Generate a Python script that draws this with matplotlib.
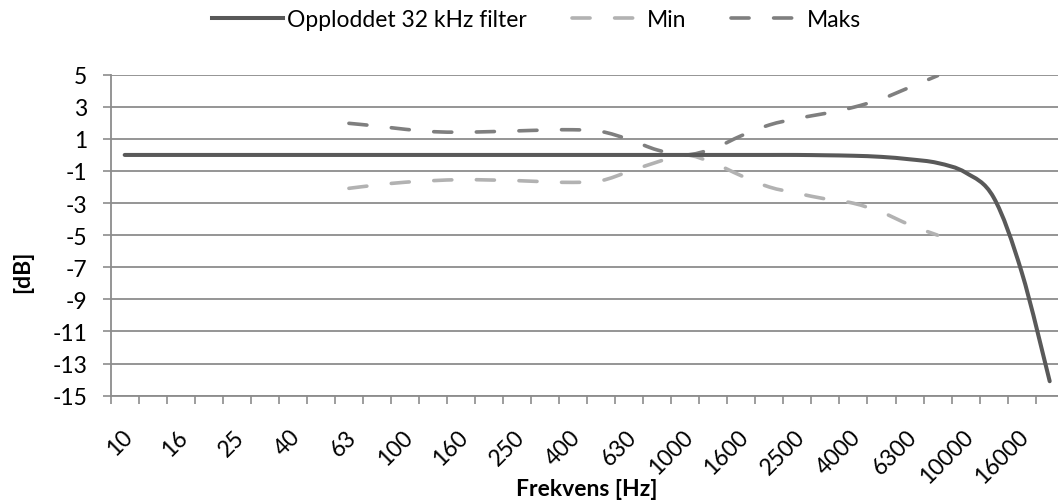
import numpy as np
import matplotlib
matplotlib.use("Agg")
import matplotlib.pyplot as plt
from matplotlib.path import Path
from matplotlib.patches import PathPatch
from matplotlib.lines import Line2D
from matplotlib.transforms import ScaledTranslation

# 1/3-octave band centre frequencies (category axis)
freqs = ["10", "12.5", "16", "20", "25", "31.5", "40", "50", "63", "80", "100",
         "125", "160", "200", "250", "315", "400", "500", "630", "800", "1000",
         "1250", "1600", "2000", "2500", "3150", "4000", "5000", "6300", "8000",
         "10000", "12500", "16000", "20000"]

filter_db = [0.0, 0.0, 0.0, 0.0, 0.0, 0.0, 0.0, 0.0, 0.0, 0.0, 0.0,
             0.0, 0.0, 0.0, 0.0, 0.0, 0.0, 0.0, 0.0, 0.0, 0.0,
             0.0, 0.0, 0.0, 0.0, -0.02, -0.05, -0.12, -0.27, -0.5,
             -1.1, -2.65, -7.3, -14.1]

# tolerance limits, 63 Hz .. 8000 Hz
tol_start = 8
min_db = [-2.08, -1.87, -1.7, -1.6, -1.54, -1.56, -1.6, -1.67, -1.71, -1.6, -1.03,
          -0.44, 0.0, -0.5, -1.3, -2.0, -2.39, -2.74, -3.01, -3.57, -4.35, -5.0]
maks_db = [1.97, 1.8, 1.6, 1.45, 1.42, 1.45, 1.5, 1.55, 1.57, 1.46, 0.96,
           0.31, 0.0, 0.4, 1.2, 1.87, 2.28, 2.59, 2.97, 3.49, 4.21, 4.94]

c_main = "#595959"
c_min = "#b2b2b2"
c_maks = "#7f7f7f"
c_grid = "#8c8c8c"
fs = 16.5

plt.rcParams["font.family"] = ["Lato", "DejaVu Sans"]
plt.rcParams["axes.unicode_minus"] = False


def smooth_path(x, y):
    # Excel style smoothed line (cardinal spline as cubic beziers)
    n = len(x)
    verts = [(x[0], y[0])]
    codes = [Path.MOVETO]
    for i in range(n - 1):
        a = max(i - 1, 0)
        b = min(i + 2, n - 1)
        c1 = (x[i] + (x[i + 1] - x[a]) / 6, y[i] + (y[i + 1] - y[a]) / 6)
        c2 = (x[i + 1] - (x[b] - x[i]) / 6, y[i + 1] - (y[b] - y[i]) / 6)
        verts += [c1, c2, (x[i + 1], y[i + 1])]
        codes += [Path.CURVE4] * 3
    return Path(verts, codes)


fig = plt.figure(figsize=(10.58, 5.02), dpi=100)
ax = fig.add_axes([0.1046, 0.2098, 0.9008, 0.6394])

x = np.arange(len(freqs))
xt = x[tol_start:tol_start + len(min_db)]

dash = (0, (5.0, 6.8))
ax.add_patch(PathPatch(smooth_path(xt, min_db), fill=False, edgecolor=c_min,
                       lw=2.6, ls=dash, capstyle="round", zorder=3))
ax.add_patch(PathPatch(smooth_path(xt, maks_db), fill=False, edgecolor=c_maks,
                       lw=2.6, ls=dash, capstyle="round", zorder=3))
ax.add_patch(PathPatch(smooth_path(x, filter_db), fill=False, edgecolor=c_main,
                       lw=2.9, capstyle="round", joinstyle="round", zorder=4))

ax.set_xlim(-0.5, len(freqs) - 0.5)
ax.set_ylim(-15, 5)
ax.set_yticks(np.arange(-15, 6, 2))
ax.yaxis.grid(True, color=c_grid, lw=1.3)
ax.set_axisbelow(True)

ax.set_xticks(x[::2])
ax.set_xticklabels(freqs[::2], rotation=45, ha="right", va="center",
                   rotation_mode="anchor")
ax.set_xticks(np.arange(-0.5, len(freqs), 1), minor=True)
ax.tick_params(axis="x", which="major", length=0, pad=27, labelsize=fs)
ax.tick_params(axis="x", which="minor", length=5.5, width=1.2, color=c_grid)
ax.tick_params(axis="y", length=6, width=1.2, color=c_grid, labelsize=fs, pad=11)
shift = ScaledTranslation(0.04, 0, fig.dpi_scale_trans)
for lab in ax.get_xticklabels():
    lab.set_transform(lab.get_transform() + shift)

for s in ["top", "right"]:
    ax.spines[s].set_visible(False)
for s in ["left", "bottom"]:
    ax.spines[s].set_color(c_grid)
    ax.spines[s].set_linewidth(1.3)

ax.set_ylabel("[dB]", fontsize=fs, fontweight="bold")
ax.yaxis.set_label_coords(-0.0815, 0.388)
ax.set_xlabel("Frekvens [Hz]", fontsize=fs, fontweight="bold")
ax.xaxis.set_label_coords(0.5, -0.255)

handles = [Line2D([], [], color=c_main, lw=2.9),
           Line2D([], [], color=c_min, lw=2.6, ls=dash, dash_capstyle="round"),
           Line2D([], [], color=c_maks, lw=2.6, ls=dash, dash_capstyle="round")]
fig.legend(handles, ["Opploddet 32 kHz filter", "Min", "Maks"], loc="center",
           bbox_to_anchor=(0.507, 0.96), ncol=3, frameon=False, fontsize=fs,
           handlelength=3.1, handletextpad=0.2, columnspacing=1.95)

fig.savefig("out.png", dpi=100)
